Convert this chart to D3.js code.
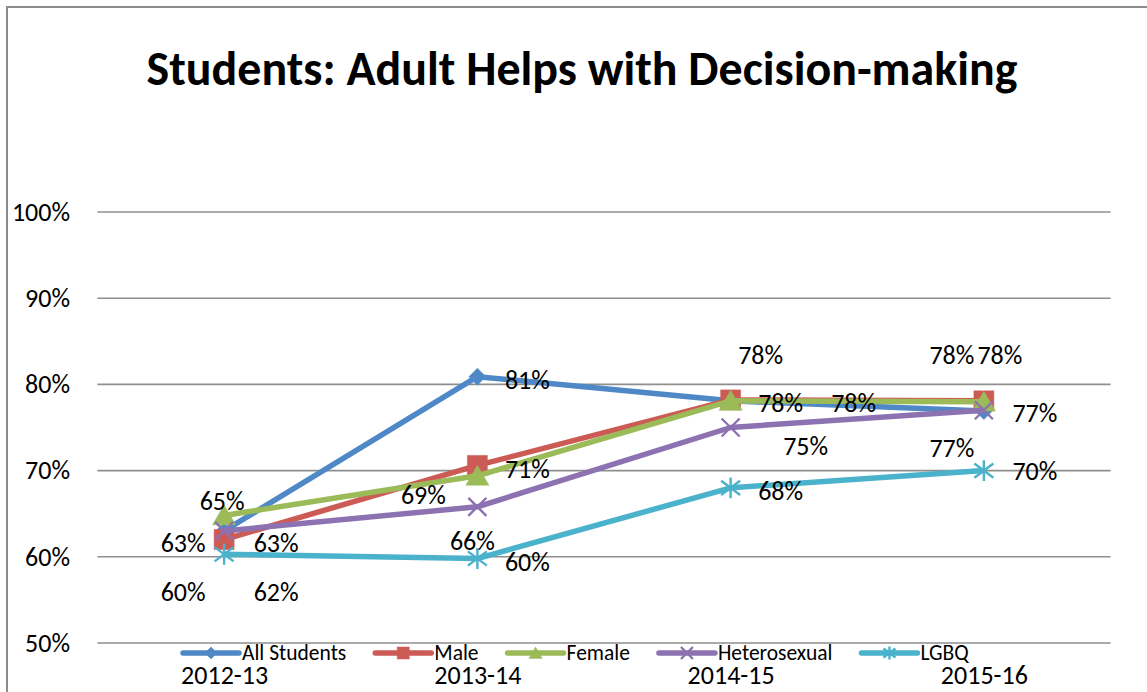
<!DOCTYPE html>
<html>
<head>
<meta charset="utf-8">
<script src="https://cdn.jsdelivr.net/npm/d3@7"></script>
<style>
  html, body { margin: 0; padding: 0; background: #fff; }
  svg { display: block; font-family: Carlito, Calibri, Lato, "Open Sans", sans-serif; }
</style>
</head>
<body>
<svg id="chart" width="1147" height="692"></svg>
<script>
// ---- data ----
const title = "Students: Adult Helps with Decision-making";
const years = ["2012-13", "2013-14", "2014-15", "2015-16"];
const seriesNames = ["All Students", "Male", "Female", "Heterosexual", "LGBQ"];
const allStudents  = [63.0, 80.9, 78.1, 76.9];
const male         = [62.0, 70.6, 78.2, 78.1];
const female       = [64.8, 69.4, 78.1, 78.0];
const heterosexual = [63.0, 65.8, 75.0, 77.0];
const lgbq         = [60.3, 59.8, 68.0, 70.0];
const yTicks = [50, 60, 70, 80, 90, 100];

// ---- styling / layout config ----
const colors = ["#4f88c6", "#cd5b55", "#9bbb59", "#8c72b0", "#4bb2cc"];
const markers = ["diamond", "square", "triangle", "x", "star"];
// data label offsets (dx, dy) from each point, per series
const labelOffsets = [
  [[-41, 12], [50, 3], [30, -46], [51, 2]],
  [[52, 52], [50, 4], [50, 3], [16, -46]],
  [[-2, -14], [-54, 19], [123, 2], [-32, -47]],
  [[52, 12], [-5, 34], [75, 18], [-32, 38]],
  [[-41, 38], [50, 3], [50, 3], [51, 0]]
];
const FONT = "Carlito, Calibri, Lato, sans-serif";

const values = [allStudents, male, female, heterosexual, lgbq];
const series = seriesNames.map((name, i) => ({
  name, color: colors[i], marker: markers[i],
  points: years.map((yr, j) => ({ yr, v: values[i][j], off: labelOffsets[i][j] }))
}));

const svg = d3.select("#chart");
svg.append("rect").attr("width", 1147).attr("height", 692).attr("fill", "#fff");
// outer chart border (extends past the right/bottom edges)
svg.append("rect").attr("x", 7).attr("y", 7).attr("width", 1170).attr("height", 710)
  .attr("fill", "none").attr("stroke", "#8c8c8c").attr("stroke-width", 2);

const x = d3.scalePoint().domain(years).range([97.5, 1110.5]).padding(0.5);
const y = d3.scaleLinear().domain([50, 100]).range([643, 212]);

// title
const t = svg.append("text").attr("x", 582).attr("y", 85).attr("text-anchor", "middle")
  .attr("font-weight", "bold").attr("font-size", 46).attr("fill", "#000").text(title);
const tw = t.node().getComputedTextLength();
t.attr("font-size", 46 * 871 / tw);

// gridlines
svg.append("g").selectAll("line").data(yTicks).join("line")
  .attr("x1", 97.5).attr("x2", 1110.5)
  .attr("y1", d => y(d)).attr("y2", d => y(d))
  .attr("stroke", "#8e8e8e").attr("stroke-width", 1.6);

// y axis labels
const yAxis = svg.append("g").attr("transform", "translate(70,0)")
  .call(d3.axisLeft(y).tickValues(yTicks).tickFormat(d => d + "%").tickSize(0).tickPadding(0));
yAxis.select(".domain").remove();
yAxis.selectAll("text").attr("font-size", 26).attr("fill", "#000").attr("font-family", FONT);

// x axis labels
const xAxis = svg.append("g").attr("transform", "translate(0,684)")
  .call(d3.axisBottom(x).tickSize(0).tickPadding(0));
xAxis.select(".domain").remove();
xAxis.selectAll("text").attr("font-size", 26).attr("fill", "#000").attr("font-family", FONT)
  .attr("dy", "0");

function markerPath(type, s) {
  switch (type) {
    case "diamond": return `M0,${-s}L${s},0L0,${s}L${-s},0Z`;
    case "square": return `M${-s},${-s}H${s}V${s}H${-s}Z`;
    case "triangle": return `M0,${-s}L${s * 1.1},${s * 0.9}L${-s * 1.1},${s * 0.9}Z`;
    case "x": return `M${-s},${-s}L${s},${s}M${s},${-s}L${-s},${s}`;
    case "star": return `M${-s},${-s * 0.75}L${s},${s * 0.75}M${s},${-s * 0.75}L${-s},${s * 0.75}M0,${-s * 1.1}V${s * 1.1}`;
  }
}
const markerSize = { diamond: 8.5, square: 10, triangle: 10.5, x: 9, star: 9.5 };
function drawMarker(g, type, color, s) {
  const stroked = type === "x" || type === "star";
  g.append("path").attr("d", markerPath(type, s))
    .attr("fill", stroked ? "none" : color)
    .attr("stroke", color)
    .attr("stroke-width", stroked ? 2.4 : 0.5);
}

const line = d3.line().x(d => x(d.yr)).y(d => y(d.v));

const sg = svg.append("g").selectAll("g").data(series).join("g");
sg.append("path").attr("d", d => line(d.points)).attr("fill", "none")
  .attr("stroke", d => d.color).attr("stroke-width", 5.5).attr("stroke-linejoin", "round");
sg.each(function (s) {
  const g = d3.select(this);
  s.points.forEach(p => {
    const mg = g.append("g").attr("transform", `translate(${x(p.yr)},${y(p.v)})`);
    drawMarker(mg, s.marker, s.color, markerSize[s.marker]);
  });
});

// data labels
const lg = svg.append("g");
series.forEach(s => {
  s.points.forEach(p => {
    lg.append("text")
      .attr("x", x(p.yr) + p.off[0]).attr("y", y(p.v) + p.off[1])
      .attr("text-anchor", "middle").attr("dominant-baseline", "central")
      .attr("font-size", 26).attr("fill", "#000")
      .text(Math.round(p.v) + "%");
  });
});

// legend
const leg = svg.append("g");
let lx = 183;
const ly = 653;
series.forEach(s => {
  const it = leg.append("g");
  it.append("line").attr("x1", lx).attr("x2", lx + 56).attr("y1", ly).attr("y2", ly)
    .attr("stroke", s.color).attr("stroke-width", 5.5).attr("stroke-linecap", "round");
  const mg = it.append("g").attr("transform", `translate(${lx + 28},${ly})`);
  drawMarker(mg, s.marker, s.color, 6);
  const tx = it.append("text").attr("x", lx + 59).attr("y", 660)
    .attr("font-size", 21.5).attr("fill", "#000").text(s.name);
  lx += 59 + tx.node().getComputedTextLength() + 29;
});
</script>
</body>
</html>
